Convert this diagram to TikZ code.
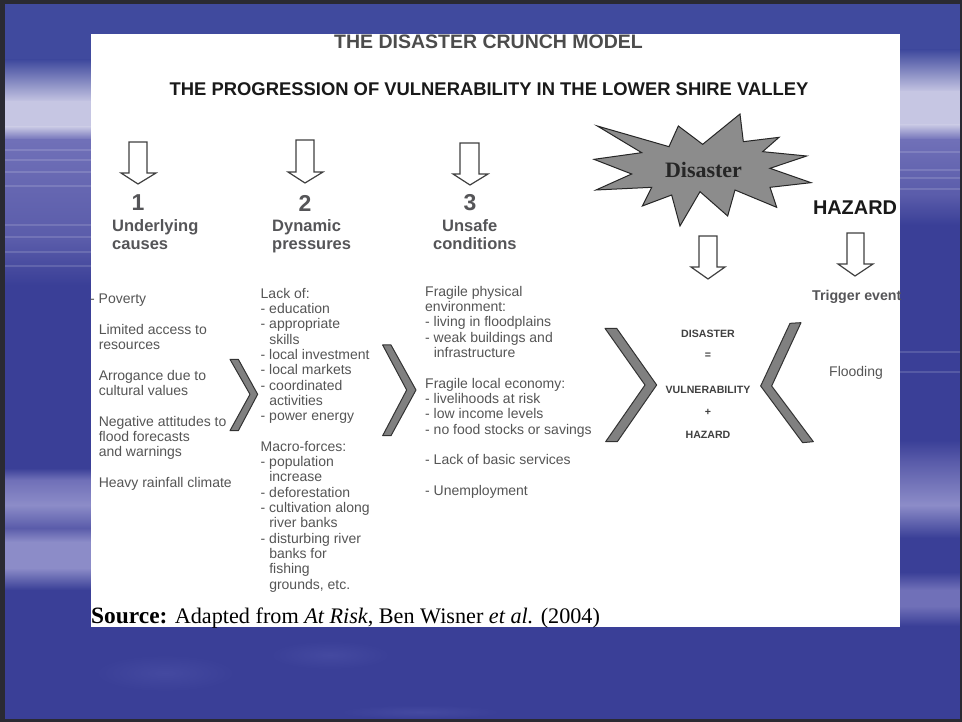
\documentclass[tikz,border=0pt]{standalone}
\usepackage{fontspec}
\setmainfont{Liberation Sans}
\newfontfamily\timesf{Liberation Serif}
\definecolor{bgd}{HTML}{3A3F97}
\definecolor{bgt}{HTML}{404A9E}
\definecolor{bgm}{HTML}{7070B8}
\definecolor{bgl}{HTML}{C6C6E3}
\definecolor{bgb}{HTML}{8C8CC8}
\definecolor{bgf}{HTML}{5A5CAA}
\definecolor{bgp}{HTML}{4449A0}
\definecolor{framec}{HTML}{2A2A33}
\definecolor{txt}{HTML}{555555}
\definecolor{head}{HTML}{555558}
\newcommand{\band}[6]{\shade[top color=#5,bottom color=#6] (#1,#3) rectangle (#2,#4);}
\tikzset{
  x=1pt,y=-1pt,
  hollow/.style={draw=black!75,fill=white,line width=1.2pt,line join=miter},
  chevron/.style={draw=black!80,fill=black!50,line width=1pt,line join=round},
  blockt/.style={anchor=north west,inner sep=0pt,align=left,text=txt,font=\fontsize{14}{15.3}\selectfont},
  headt/.style={anchor=north west,inner sep=0pt,align=left,text=head,font=\fontsize{16.5}{18}\selectfont\bfseries},
  numt/.style={inner sep=0pt,text=head,font=\fontsize{23}{23}\selectfont\bfseries},
  eqt/.style={inner sep=0pt,text=black!75,font=\fontsize{10.6}{12}\selectfont\bfseries},
  streak/.style={white,opacity=.14,line width=2pt},
}
\newcommand{\hollowarrow}[7]{\draw[hollow] (#1,#3) -- (#2,#3) -- (#2,#4) -- (#6,#4) -- (#7) -- (#5,#4) -- (#1,#4) -- cycle;}
\begin{document}
\begin{tikzpicture}
\useasboundingbox (0,0) rectangle (962,722);
% background
\fill[bgd] (0,0) rectangle (962,722);
\band{0}{962}{0}{60}{bgt}{bgt}
\shade[inner color=bgp,outer color=bgd] (165,673) ellipse (70 and 18);
\shade[inner color=bgp,outer color=bgd] (330,655) ellipse (60 and 14);
\shade[inner color=bgp,outer color=bgd] (420,712) ellipse (80 and 7);
% left strip
\band{0}{91.5}{60}{102}{bgt}{bgl}
\band{0}{91.5}{102}{127}{bgl}{bgl}
\band{0}{91.5}{127}{140}{bgl}{bgm}
\band{0}{91.5}{140}{240}{bgm}{bgf}
\band{0}{91.5}{240}{285}{bgf}{bgd}
\band{0}{91.5}{468}{480}{bgd}{bgm}
\band{0}{91.5}{480}{505}{bgm}{bgb}
\band{0}{91.5}{505}{528}{bgb}{bgf}
\band{0}{91.5}{528}{542}{bgf}{bgb}
\band{0}{91.5}{542}{568}{bgb}{bgb}
\band{0}{91.5}{568}{590}{bgb}{bgd}
% right strip
\band{899.5}{962}{50}{92}{bgt}{bgl}
\band{899.5}{962}{92}{125}{bgl}{bgl}
\band{899.5}{962}{125}{140}{bgl}{bgm}
\band{899.5}{962}{140}{195}{bgm}{bgf}
\band{899.5}{962}{195}{225}{bgf}{bgd}
\band{899.5}{962}{440}{462}{bgd}{bgf}
\band{899.5}{962}{462}{505}{bgf}{bgb}
\band{899.5}{962}{505}{538}{bgb}{bgd}
\band{899.5}{962}{572}{590}{bgd}{bgm}
\band{899.5}{962}{590}{606}{bgm}{bgm}
\band{899.5}{962}{606}{626}{bgm}{bgd}
% streaks
\foreach \yy in {150,160,172,186,225,237,252,266}{\draw[streak] (5,\yy) -- (91,\yy);}
\foreach \yy in {152,170,178,189,352,372}{\draw[streak] (900,\yy) -- (960,\yy);}
% white panel
\fill[white] (91,34) rectangle (900,627);
% frame
\fill[framec] (0,0) rectangle (962,4);
\fill[framec] (0,0) rectangle (5,722);
\fill[framec] (0,719) rectangle (962,722);
\fill[framec] (960,0) rectangle (962,722);
% titles
\begin{scope}
\clip (91,34) rectangle (900,627);
\node[inner sep=0pt,text=black!70,font=\fontsize{19.5}{22}\selectfont\bfseries] (crunch) at (488.5,42) {THE DISASTER CRUNCH MODEL};
\end{scope}
\node[inner sep=0pt,text=black!90,font=\fontsize{18.4}{22}\selectfont\bfseries] (title) at (489,89) {THE PROGRESSION OF VULNERABILITY IN THE LOWER SHIRE VALLEY};
% arrows
\hollowarrow{129}{147}{142}{173}{121}{156}{138,184}
\hollowarrow{296}{314}{140}{172}{288}{323}{305,183}
\hollowarrow{460}{479}{143}{174}{453}{488}{470,185}
\hollowarrow{699}{717}{236}{267}{691}{725}{708,279}
\hollowarrow{847}{864}{233}{264}{838}{873}{855,276}
% numbers and heads
\node[numt] (n1) at (138,203) {1};
\node[numt] (n2) at (305,203) {2};
\node[numt] (n3) at (470,203) {3};
\node[headt] (h1) at (112,219) {Underlying\\causes};
\node[headt] (h2) at (272,219) {Dynamic\\pressures};
\node[headt] (h3) at (433,219) {\hspace{9pt}Unsafe\\conditions};
% bodies
\node[blockt] (b1) at (90,294) {- Poverty\\[15.3pt]
\phantom{- }Limited access to\\ \phantom{- }resources\\[15.3pt]
\phantom{- }Arrogance due to\\ \phantom{- }cultural values\\[15.3pt]
\phantom{- }Negative attitudes to\\ \phantom{- }flood forecasts\\ \phantom{- }and warnings\\[15.3pt]
\phantom{- }Heavy rainfall climate};
\node[blockt] (b2) at (260.5,288) {Lack of:\\- education\\- appropriate\\ \phantom{- }skills\\- local investment\\- local markets\\- coordinated\\ \phantom{- }activities\\- power energy\\[15.3pt]
Macro-forces:\\- population\\ \phantom{- }increase\\- deforestation\\- cultivation along\\ \phantom{- }river banks\\- disturbing river\\ \phantom{- }banks for\\ \phantom{- }fishing\\ \phantom{- }grounds, etc.};
\node[blockt] (b3) at (425,286) {Fragile physical\\environment:\\- living in floodplains\\- weak buildings and\\ \phantom{- }infrastructure\\[15.3pt]
Fragile local economy:\\- livelihoods at risk\\- low income levels\\- no food stocks or savings\\[15.3pt]
- Lack of basic services\\[15.3pt]
- Unemployment};
% chevrons
\begin{scope}[shift={(90,280)},scale=1/3]
\draw[chevron] (420,238) -- (445,238) -- (503,343) -- (445,452) -- (420,452) -- (480,343) -- cycle;
\draw[chevron] (878,195) -- (903,195) -- (978,330) -- (903,467) -- (878,467) -- (950,330) -- cycle;
\end{scope}
\begin{scope}[shift={(590,300)},scale=1/3]
\draw[chevron] (45,85) -- (80,85) -- (200,255) -- (82,425) -- (47,425) -- (165,255) -- cycle;
\draw[chevron] (633,68) -- (600,70) -- (512,258) -- (638,428) -- (670,425) -- (545,258) -- cycle;
\end{scope}
% star
\begin{scope}[shift={(580,100)},scale=1/3]
\draw[fill=black!45,draw=black!85,line width=1pt,line join=miter] (52,78) -- (267,140) -- (295,78) -- (368,133) -- (480,42) -- (490,125) -- (597,112) -- (548,155) -- (680,168) -- (570,205) -- (693,248) -- (570,262) -- (590,322) -- (465,270) -- (443,348) -- (360,275) -- (300,378) -- (275,285) -- (187,318) -- (215,262) -- (48,270) -- (155,222) -- (42,178) -- (185,158) -- cycle;
\end{scope}
\node[inner sep=0pt,text=black!85,font=\timesf\fontsize{22}{24}\selectfont\bfseries] (dis) at (703.5,170) {Disaster};
% right
\node[inner sep=0pt,text=black!90,font=\fontsize{19.9}{22}\selectfont\bfseries] (haz) at (855,208) {HAZARD};
\node[inner sep=0pt,anchor=west,text=head,font=\fontsize{14.2}{16}\selectfont\bfseries] (trig) at (812,297) {Trigger event};
\node[inner sep=0pt,anchor=west,text=txt,font=\fontsize{14}{16}\selectfont] (flood) at (829,373) {Flooding};
\node[eqt] (e1) at (708,334) {DISASTER};
\node[eqt] (e2) at (708,356) {=};
\node[eqt] (e3) at (708,390) {VULNERABILITY};
\node[eqt] (e4) at (708,412) {+};
\node[eqt] (e5) at (708,435) {HAZARD};
% source
\node[anchor=base west,inner sep=0pt,text=black,font=\timesf\fontsize{22.2}{26}\selectfont] (src) at (91,623) {{\fontsize{23.4}{26}\selectfont\textbf{Source:}} Adapted from \textit{At Risk}, Ben Wisner \textit{et al.} (2004)};
\end{tikzpicture}
\end{document}
